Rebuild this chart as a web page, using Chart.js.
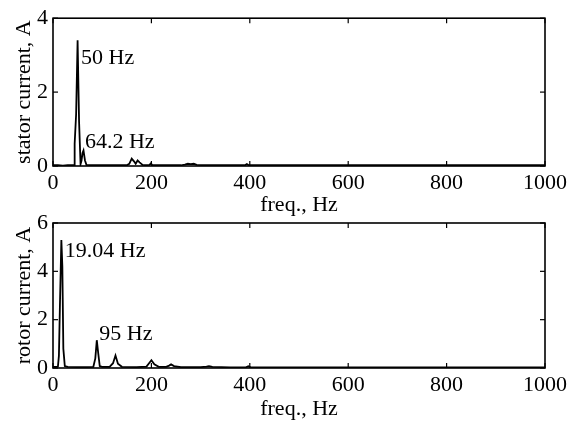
<!DOCTYPE html>
<html>
<head>
<meta charset="utf-8">
<script src="https://cdn.jsdelivr.net/npm/chart.js@4.4.0/dist/chart.umd.min.js"></script>
<style>
  html, body { margin: 0; padding: 0; background: #fff; }
  #wrap { position: relative; width: 579px; height: 423px; }
  #wrap canvas { position: absolute; left: 0; top: 0; }
</style>
</head>
<body>
<div id="wrap">
  <canvas id="stator" width="579" height="423"></canvas>
  <canvas id="rotor" width="579" height="423"></canvas>
</div>
<script>
// stator current spectrum
const statorFreq = [0, 10, 20, 30, 40, 43, 44, 47, 50, 53, 56, 58, 60, 62, 65, 68, 80, 100, 130, 150, 155, 160, 165, 168, 172, 176, 182, 190, 196, 199, 202, 230, 260, 268, 274, 280, 286, 292, 310, 350, 390, 394, 398, 450, 500, 600, 700, 800, 900, 1000];
const statorAmp  = [0.02, 0.02, 0.01, 0.02, 0.02, 0.02, 0.60, 1.40, 3.40, 1.20, 0.05, 0.15, 0.35, 0.42, 0.15, 0.03, 0.02, 0.02, 0.02, 0.02, 0.06, 0.20, 0.12, 0.06, 0.15, 0.10, 0.03, 0.02, 0.03, 0.07, 0.02, 0.02, 0.02, 0.04, 0.06, 0.05, 0.06, 0.03, 0.02, 0.02, 0.02, 0.05, 0.02, 0.02, 0.02, 0.02, 0.02, 0.02, 0.02, 0.02];

// rotor current spectrum
const rotorFreq = [0, 5, 10, 12, 14, 17, 19, 21, 24, 30, 50, 70, 82, 86, 89, 92, 95, 100, 115, 122, 127, 132, 140, 170, 190, 196, 200, 206, 215, 230, 236, 240, 246, 260, 300, 312, 317, 324, 360, 392, 397, 402, 450, 500, 600, 700, 800, 900, 1000];
const rotorAmp  = [0.05, 0.05, 0.06, 0.50, 2.50, 5.30, 4.20, 0.80, 0.08, 0.05, 0.04, 0.04, 0.05, 0.40, 1.15, 0.60, 0.08, 0.05, 0.05, 0.20, 0.52, 0.18, 0.05, 0.04, 0.06, 0.22, 0.32, 0.15, 0.05, 0.05, 0.10, 0.15, 0.08, 0.04, 0.04, 0.06, 0.08, 0.05, 0.03, 0.03, 0.07, 0.03, 0.03, 0.02, 0.02, 0.02, 0.02, 0.02, 0.02];

const xTicks = [0, 200, 400, 600, 800, 1000];
const statorYTicks = [0, 2, 4];
const rotorYTicks = [0, 2, 4, 6];

const statorNotes = [{ text: '50 Hz', x: 57, y: 2.92 }, { text: '64.2 Hz', x: 65, y: 0.64 }];
const rotorNotes = [{ text: '19.04 Hz', x: 24, y: 4.84 }, { text: '95 Hz', x: 94, y: 1.39 }];

const FONT = 'Liberation Serif, Times New Roman, serif';
const font = size => ({ family: FONT, size, lineHeight: 1.2 });

// box frame, inward ticks and peak labels
const boxTicks = {
    id: 'boxTicks',
    afterDraw(chart, args, opts) {
        const { ctx, chartArea: a, scales: { x, y } } = chart;
        ctx.save();
        ctx.strokeStyle = '#000';
        ctx.lineWidth = 1.6;
        ctx.strokeRect(a.left, a.top, a.width, a.height);
        ctx.lineWidth = 1.2;
        const seg = (x1, y1, x2, y2) => { ctx.beginPath(); ctx.moveTo(x1, y1); ctx.lineTo(x2, y2); ctx.stroke(); };
        x.ticks.forEach(t => { const p = x.getPixelForValue(t.value); seg(p, a.bottom, p, a.bottom - 5); seg(p, a.top, p, a.top + 5); });
        y.ticks.forEach(t => { const p = y.getPixelForValue(t.value); seg(a.left, p, a.left + 5, p); seg(a.right, p, a.right - 5, p); });
        ctx.fillStyle = '#000';
        ctx.font = `22px ${FONT}`;
        ctx.textBaseline = 'middle';
        ctx.textAlign = 'left';
        (opts.notes || []).forEach(n => ctx.fillText(n.text, x.getPixelForValue(n.x), y.getPixelForValue(n.y)));
        ctx.restore();
    }
};

function makeChart(id, freq, amp, yTicks, yTitle, notes, pad, xHeight) {
    return new Chart(document.getElementById(id), {
        type: 'line',
        data: { datasets: [{ data: freq.map((f, i) => ({ x: f, y: amp[i] })), borderColor: '#000', borderWidth: 1.8, pointRadius: 0, tension: 0, fill: false }] },
        options: {
            responsive: false, animation: false, events: [],
            layout: { padding: pad },
            plugins: { legend: { display: false }, tooltip: { enabled: false }, boxTicks: { notes } },
            scales: {
                x: {
                    type: 'linear', min: 0, max: 1000,
                    afterBuildTicks: s => { s.ticks = xTicks.map(v => ({ value: v })); },
                    afterFit: s => { s.height = xHeight; },
                    grid: { display: false, drawTicks: false }, border: { display: false },
                    ticks: { color: '#000', font: font(22), padding: 4, maxRotation: 0, callback: v => String(v) },
                    title: { display: true, text: 'freq., Hz', color: '#000', font: font(22), padding: 0 }
                },
                y: {
                    min: 0, max: yTicks[yTicks.length - 1],
                    afterBuildTicks: s => { s.ticks = yTicks.map(v => ({ value: v })); },
                    afterFit: s => { s.width = 40; },
                    grid: { display: false, drawTicks: false }, border: { display: false },
                    ticks: { color: '#000', font: font(22), padding: 5 },
                    title: { display: true, text: yTitle, color: '#000', font: { family: FONT, size: 22, lineHeight: 1 }, padding: 0 }
                }
            }
        },
        plugins: [boxTicks]
    });
}

makeChart('stator', statorFreq, statorAmp, statorYTicks, 'stator current, A', statorNotes, { left: 13, right: 34, top: 14, bottom: 205 }, 52);
makeChart('rotor', rotorFreq, rotorAmp, rotorYTicks, 'rotor current, A', rotorNotes, { left: 13, right: 34, top: 223, bottom: 1 }, 54);
</script>
</body>
</html>
